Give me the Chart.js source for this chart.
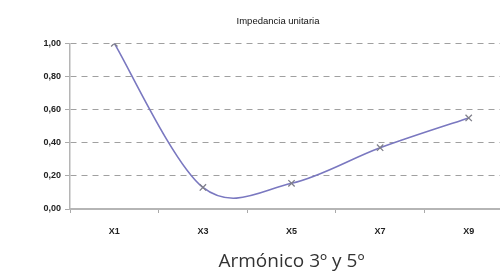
<!DOCTYPE html>
<html>
<head>
<meta charset="utf-8">
<script src="https://cdn.jsdelivr.net/npm/chart.js@4"></script>
<style>
html,body{margin:0;padding:0;background:#fff;overflow:hidden;width:500px;height:271px;}
#wrap{width:556px;height:271px;position:relative;}
</style>
</head>
<body>
<div id="wrap"><canvas id="c" width="556" height="271"></canvas></div>
<script>
const categories = ['X1', 'X3', 'X5', 'X7', 'X9'];
const impedancia = [1.00, 0.13, 0.155, 0.37, 0.55];
const yTicks = [0, 0.2, 0.4, 0.6, 0.8, 1.0];
const chartTitle = 'Impedancia unitaria';
const xTitle = 'Armónico 3º y 5º';

const fmt = v => v.toFixed(2).replace('.', ',');

// Spreadsheet-style smoothing: Bezier control points at 1/6 of neighbour differences
const excelSmooth = {
  id: 'excelSmooth',
  beforeDatasetDraw(chart, args) {
    const meta = args.meta;
    const line = meta.dataset;
    if (!line) return;
    line.updateControlPoints(chart.chartArea);
    const pts = meta.data;
    const n = pts.length;
    for (let i = 0; i < n; i++) {
      const p = pts[i];
      const prev = pts[Math.max(i - 1, 0)];
      const next = pts[Math.min(i + 1, n - 1)];
      const dx = (next.x - prev.x) / 6;
      const dy = (next.y - prev.y) / 6;
      p.cp1x = p.x - dx; p.cp1y = p.y - dy;
      p.cp2x = p.x + dx; p.cp2y = p.y + dy;
    }
  }
};

new Chart(document.getElementById('c'), {
  type: 'line',
  data: {
    labels: categories,
    datasets: [{
      data: impedancia,
      borderColor: '#7a78c0',
      borderWidth: 1.6,
      tension: 0.4,
      pointStyle: 'crossRot',
      pointRadius: 4.5,
      pointBorderWidth: 1.3,
      pointBorderColor: '#7f7f8a',
      pointBackgroundColor: '#7f7f8a',
      fill: false
    }]
  },
  options: {
    responsive: false,
    animation: false,
    devicePixelRatio: 1,
    layout: { padding: { left: 0, right: 0, top: 0, bottom: 0 } },
    plugins: {
      legend: { display: false },
      tooltip: { enabled: false },
      title: {
        display: true,
        text: chartTitle,
        color: '#111',
        font: { family: 'Liberation Sans', size: 9.5, weight: 'normal' },
        padding: { top: 16, bottom: 16 }
      }
    },
    scales: {
      x: {
        type: 'category',
        offset: true,
        grid: { display: true, offset: true, drawOnChartArea: false, drawTicks: true, tickLength: 4, color: '#aaa' },
        border: { display: true, color: '#b5b5b5', width: 2 },
        ticks: { color: '#222', font: { family: 'Liberation Sans', size: 9, weight: 'bold' }, padding: 13, maxRotation: 0 },
        title: { display: true, text: xTitle, color: '#333', font: { family: 'Open Sans', size: 19, lineHeight: 1.0 }, padding: { top: 4, bottom: 0 } },
        afterFit: s => { s.height = 62; }
      },
      y: {
        min: 0, max: 1,
        afterBuildTicks: s => { s.ticks = yTicks.map(v => ({ value: v })); },
        grid: { color: '#a0a0a0', lineWidth: 1, drawTicks: true, tickLength: 5, tickColor: '#aaa', tickBorderDash: [0, 0] },
        border: { display: true, color: '#b5b5b5', width: 1.5, dash: [6, 5] },
        ticks: { color: '#222', font: { family: 'Liberation Sans', size: 9, weight: 'bold' }, padding: 4, callback: v => fmt(v) },
        afterFit: s => { s.width = 70; }
      },
      yR: {
        position: 'right',
        display: true,
        min: 0, max: 1,
        grid: { display: false },
        border: { display: false },
        ticks: { display: false },
        afterFit: s => { s.width = 43; }
      }
    }
  },
  plugins: [excelSmooth]
});
</script>
</body>
</html>
